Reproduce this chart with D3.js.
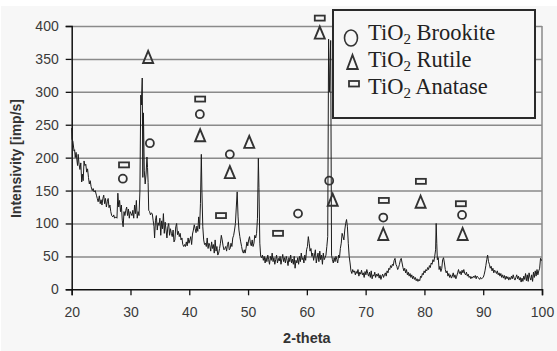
<!DOCTYPE html>
<html>
<head>
<meta charset="utf-8">
<script src="https://cdn.jsdelivr.net/npm/d3@7.9.0/dist/d3.min.js"></script>
<style>
  body { margin: 0; background: #fff; }
  svg { display: block; }
</style>
</head>
<body>
<svg id="chart" width="557" height="351"></svg>
<script>
// XRD scan, [2-theta, intensity]
const scan = [
  [20.0,245],[20.05,228],[20.2,225],[20.4,210],[20.5,212],[20.6,200],[20.75,208],[20.9,195],[21.0,188],[21.1,205],
  [21.25,190],[21.4,182],[21.55,192],[21.7,163],[21.8,175],[21.95,165],[22.1,195],[22.25,188],[22.4,190],[22.55,178],
  [22.7,183],[22.85,170],[23.0,160],[23.15,165],[23.3,156],[23.5,150],[23.65,153],[23.8,148],[24.0,150],[24.2,143],
  [24.35,138],[24.5,133],[24.7,142],[24.85,130],[25.0,136],[25.15,128],[25.3,138],[25.45,143],[25.6,130],[25.75,138],
  [25.9,125],[26.05,133],[26.2,138],[26.35,124],[26.5,128],[26.65,118],[26.8,112],[27.0,110],[27.15,113],[27.3,108],
  [27.5,110],[27.7,108],[27.85,146],[28.0,125],[28.15,135],[28.3,118],[28.45,128],[28.6,105],[28.75,95],[28.9,118],
  [29.05,112],[29.2,120],[29.35,125],[29.5,112],[29.65,122],[29.8,108],[29.95,118],[30.1,115],[30.25,112],[30.4,120],
  [30.55,108],[30.7,128],[30.85,115],[31.0,135],[31.15,108],[31.3,118],[31.45,112],[31.6,148],[31.75,295],[31.85,280],
  [32.0,321],[32.1,170],[32.2,268],[32.35,180],[32.5,160],[32.65,175],[32.8,201],[32.9,185],[33.0,162],[33.1,120],
  [33.25,118],[33.4,113],[33.55,116],[33.7,115],[33.85,105],[34.0,95],[34.1,78],[34.25,105],[34.4,112],[34.55,90],
  [34.7,101],[34.85,97],[35.0,108],[35.15,82],[35.3,104],[35.45,92],[35.6,115],[35.75,85],[35.9,102],[36.05,90],
  [36.2,78],[36.35,95],[36.5,100],[36.65,82],[36.8,92],[36.95,85],[37.1,80],[37.25,90],[37.4,72],[37.55,75],
  [37.7,95],[37.85,100],[38.0,83],[38.15,88],[38.3,80],[38.45,85],[38.6,75],[38.75,78],[38.9,68],[39.05,65],
  [39.2,68],[39.35,65],[39.5,72],[39.65,66],[39.8,78],[39.95,70],[40.1,75],[40.25,80],[40.4,68],[40.55,84],
  [40.7,90],[40.85,98],[41.0,92],[41.15,86],[41.3,96],[41.45,88],[41.6,110],[41.75,92],[41.9,130],[42.05,205],
  [42.15,150],[42.3,95],[42.45,75],[42.6,68],[42.75,70],[42.9,65],[43.05,78],[43.2,62],[43.35,70],[43.5,66],
  [43.65,58],[43.8,72],[43.95,62],[44.1,68],[44.25,55],[44.4,75],[44.55,58],[44.7,65],[44.85,52],[45.0,55],
  [45.15,62],[45.3,70],[45.45,82],[45.6,75],[45.75,66],[45.9,60],[46.05,62],[46.2,65],[46.35,58],[46.5,68],
  [46.65,72],[46.8,60],[46.95,62],[47.1,70],[47.25,65],[47.4,78],[47.55,82],[47.7,90],[47.85,100],[48.0,125],
  [48.15,148],[48.3,110],[48.45,90],[48.6,80],[48.75,72],[48.9,65],[49.05,58],[49.2,55],[49.35,60],[49.5,55],
  [49.65,62],[49.8,72],[49.95,66],[50.1,75],[50.25,80],[50.4,70],[50.55,66],[50.7,75],[50.85,65],[51.0,70],
  [51.15,82],[51.3,78],[51.45,85],[51.6,108],[51.75,199],[51.85,155],[52.0,70],[52.15,50],[52.3,48],[52.45,52],
  [52.6,44],[52.75,50],[52.9,40],[53.05,48],[53.2,42],[53.35,52],[53.5,45],[53.65,38],[53.8,50],[53.95,44],
  [54.1,55],[54.25,42],[54.4,48],[54.55,38],[54.7,45],[54.85,52],[55.0,40],[55.15,47],[55.3,43],[55.45,50],
  [55.6,38],[55.75,46],[55.9,53],[56.05,42],[56.2,48],[56.35,40],[56.5,50],[56.65,44],[56.8,36],[56.95,48],
  [57.1,42],[57.25,52],[57.4,40],[57.55,46],[57.7,38],[57.85,50],[58.0,32],[58.15,44],[58.3,40],[58.45,48],
  [58.6,38],[58.75,50],[58.9,42],[59.05,55],[59.2,45],[59.35,48],[59.5,40],[59.65,52],[59.8,44],[59.95,60],
  [60.1,65],[60.25,80],[60.4,70],[60.55,58],[60.7,62],[60.85,50],[61.0,55],[61.15,44],[61.3,52],[61.45,60],
  [61.6,40],[61.75,48],[61.9,55],[62.05,42],[62.2,58],[62.35,45],[62.5,52],[62.65,38],[62.8,55],[62.95,45],
  [63.1,48],[63.25,52],[63.4,65],[63.55,80],[63.7,380],[63.85,300],[64.05,378],[64.2,52],[64.35,45],[64.5,40],
  [64.65,48],[64.8,42],[64.95,50],[65.1,45],[65.25,40],[65.4,52],[65.55,48],[65.7,62],[65.85,70],[66.0,85],
  [66.15,80],[66.3,75],[66.45,90],[66.6,100],[66.75,106],[66.9,95],[67.05,70],[67.2,50],[67.35,40],[67.5,28],
  [67.65,24],[67.8,30],[67.95,26],[68.1,28],[68.25,22],[68.4,27],[68.55,24],[68.7,30],[68.85,20],[69.0,26],
  [69.15,23],[69.3,29],[69.45,22],[69.6,25],[69.75,18],[69.9,27],[70.05,22],[70.2,30],[70.35,24],[70.5,20],
  [70.65,26],[70.8,18],[70.95,28],[71.1,16],[71.25,22],[71.4,20],[71.55,26],[71.7,18],[71.85,23],[72.0,20],
  [72.15,24],[72.3,17],[72.45,22],[72.6,15],[72.75,20],[72.9,23],[73.05,18],[73.2,22],[73.35,25],[73.5,20],
  [73.65,28],[73.8,25],[73.95,32],[74.1,30],[74.25,36],[74.4,33],[74.55,38],[74.7,36],[74.85,44],[75.0,47],
  [75.15,38],[75.3,35],[75.45,30],[75.6,33],[75.75,38],[75.9,44],[76.05,47],[76.2,40],[76.35,33],[76.5,28],
  [76.65,32],[76.8,25],[76.95,30],[77.1,22],[77.25,26],[77.4,20],[77.55,24],[77.7,18],[77.85,22],[78.0,16],
  [78.15,20],[78.3,15],[78.45,18],[78.6,13],[78.75,16],[78.9,12],[79.05,15],[79.2,13],[79.35,20],[79.5,18],
  [79.65,24],[79.8,22],[79.95,28],[80.1,25],[80.25,30],[80.4,28],[80.55,33],[80.7,30],[80.85,36],[81.0,33],
  [81.15,40],[81.3,38],[81.45,45],[81.6,42],[81.75,50],[81.9,60],[82.0,100],[82.1,70],[82.2,45],[82.35,48],
  [82.5,30],[82.65,35],[82.8,27],[82.95,32],[83.1,45],[83.25,48],[83.4,40],[83.55,30],[83.7,25],[83.85,28],
  [84.0,20],[84.15,24],[84.3,18],[84.45,22],[84.6,17],[84.75,20],[84.9,25],[85.05,18],[85.2,22],[85.35,16],
  [85.5,20],[85.65,25],[85.8,30],[85.95,24],[86.1,27],[86.25,22],[86.4,29],[86.55,25],[86.7,30],[86.85,24],
  [87.0,22],[87.15,26],[87.3,20],[87.45,23],[87.6,18],[87.75,20],[87.9,16],[88.05,19],[88.2,17],[88.35,20],
  [88.5,18],[88.65,21],[88.8,16],[88.95,20],[89.1,18],[89.25,17],[89.4,15],[89.55,18],[89.7,16],[89.85,17],
  [90.0,18],[90.15,22],[90.3,28],[90.45,36],[90.6,45],[90.75,52],[90.9,42],[91.05,38],[91.2,32],[91.35,35],
  [91.5,28],[91.65,32],[91.8,25],[91.95,29],[92.1,27],[92.25,24],[92.4,28],[92.55,22],[92.7,25],[92.85,20],
  [93.0,24],[93.15,18],[93.3,22],[93.45,17],[93.6,21],[93.75,15],[93.9,20],[94.05,16],[94.2,19],[94.35,14],
  [94.5,18],[94.65,15],[94.8,20],[94.95,16],[95.1,22],[95.25,17],[95.4,14],[95.55,18],[95.7,22],[95.85,16],
  [96.0,20],[96.15,14],[96.3,18],[96.45,11],[96.6,17],[96.75,12],[96.9,20],[97.05,15],[97.2,24],[97.35,13],
  [97.5,22],[97.65,12],[97.8,25],[97.95,18],[98.1,14],[98.25,22],[98.4,12],[98.55,26],[98.7,18],[98.85,28],
  [99.0,20],[99.15,30],[99.3,22],[99.45,28],[99.6,32],[99.75,47],[99.9,44],[100.0,44]
];

// phase markers, [2-theta, height]
const brookite = [[28.7,168],[33.3,222],[41.8,266],[46.9,205],[58.5,115],[63.8,165],[73.0,109],[86.4,113]];
const rutile = [[33.0,353],[41.85,234],[46.9,178],[50.2,224],[62.2,390],[64.4,136],[73.0,84],[79.35,133],[86.5,84]];
const anatase = [[28.9,189],[41.85,289],[45.4,112],[55.1,85],[62.2,412],[73.1,135],[79.4,164],[86.2,130]];

const xTicks = [20, 30, 40, 50, 60, 70, 80, 90, 100];
const yTicks = [0, 50, 100, 150, 200, 250, 300, 350, 400];
const phases = ['Brookite', 'Rutile', 'Anatase'];

const svg = d3.select('#chart');
const plotL = 71.7, plotR = 542, plotT = 26, plotB = 289.3;

const x = d3.scaleLinear().domain([20, 100]).range([plotL, plotR]);
const y = d3.scaleLinear().domain([0, 400]).range([plotB, plotT]);

svg.append('rect')
  .attr('x', 1).attr('y', 6).attr('width', 556).attr('height', 345)
  .attr('fill', '#f7f7f7');

// gridlines
svg.append('g')
  .attr('transform', `translate(${plotL},0)`)
  .call(d3.axisLeft(y).tickValues(yTicks.slice(1)).tickSize(-(plotR - plotL)).tickFormat(''))
  .call(g => g.select('.domain').remove())
  .call(g => g.selectAll('line').attr('stroke', '#8a8a8a').attr('stroke-width', 1.5));

svg.append('line')
  .attr('x1', plotR).attr('x2', plotR).attr('y1', plotT).attr('y2', plotB)
  .attr('stroke', '#8a8a8a').attr('stroke-width', 1.5);

// axes
const yAxis = svg.append('g')
  .attr('transform', `translate(${plotL},0)`)
  .call(d3.axisLeft(y).tickValues(yTicks).tickSize(6).tickPadding(7));
const xAxis = svg.append('g')
  .attr('transform', `translate(0,${plotB})`)
  .call(d3.axisBottom(x).tickValues(xTicks).tickSize(6).tickPadding(12));

[yAxis, xAxis].forEach(g => {
  g.select('.domain').attr('stroke', '#111').attr('stroke-width', 1.5);
  g.selectAll('line').attr('stroke', '#111').attr('stroke-width', 1.3);
  g.selectAll('text')
    .attr('font-family', 'Liberation Sans, Arial, sans-serif')
    .attr('font-size', 14)
    .attr('fill', '#3a3a3a');
});

svg.append('text')
  .attr('x', (plotL + plotR) / 2).attr('y', 343)
  .attr('text-anchor', 'middle')
  .attr('font-family', 'Liberation Sans, Arial, sans-serif')
  .attr('font-size', 14.5).attr('font-weight', 'bold').attr('fill', '#333')
  .text('2-theta');

svg.append('text')
  .attr('transform', `translate(21,158.5) rotate(-90)`)
  .attr('text-anchor', 'middle')
  .attr('font-family', 'Liberation Sans, Arial, sans-serif')
  .attr('font-size', 14).attr('font-weight', 'bold').attr('fill', '#333')
  .text('Intensivity [imp/s]');

// scan line
const line = d3.line().x(d => x(d[0])).y(d => y(d[1]));
svg.append('path')
  .datum(scan)
  .attr('d', line)
  .attr('fill', 'none')
  .attr('stroke', '#1c1c1c')
  .attr('stroke-width', 1)
  .attr('stroke-linejoin', 'miter');

const ink = '#333';
function tri(cx, cy, w, h) {
  return `M${cx},${cy - h / 2}L${cx + w / 2},${cy + h / 2}L${cx - w / 2},${cy + h / 2}Z`;
}

const marks = svg.append('g');
marks.selectAll('circle.b').data(brookite).join('circle')
  .attr('cx', d => x(d[0])).attr('cy', d => y(d[1])).attr('r', 4)
  .attr('fill', 'none').attr('stroke', ink).attr('stroke-width', 1.8);
marks.selectAll('path.r').data(rutile).join('path')
  .attr('d', d => tri(x(d[0]), y(d[1]), 10, 12))
  .attr('fill', 'none').attr('stroke', ink).attr('stroke-width', 1.9);
marks.selectAll('rect.a').data(anatase).join('rect')
  .attr('x', d => x(d[0]) - 5).attr('y', d => y(d[1]) - 2.5)
  .attr('width', 10).attr('height', 5)
  .attr('fill', 'none').attr('stroke', ink).attr('stroke-width', 1.8);

// legend
const legend = svg.append('g');
legend.append('rect')
  .attr('x', 333).attr('y', 10).attr('width', 202).attr('height', 108)
  .attr('fill', '#f7f7f7').attr('stroke', '#2a2a2a').attr('stroke-width', 2);

legend.append('ellipse')
  .attr('cx', 351).attr('cy', 38).attr('rx', 6.5).attr('ry', 8)
  .attr('fill', 'none').attr('stroke', ink).attr('stroke-width', 1.6);
legend.append('path')
  .attr('d', tri(352.5, 62, 10.5, 14))
  .attr('fill', 'none').attr('stroke', ink).attr('stroke-width', 1.9);
legend.append('rect')
  .attr('x', 349).attr('y', 81).attr('width', 10).attr('height', 5.5)
  .attr('fill', 'none').attr('stroke', ink).attr('stroke-width', 1.8);

phases.forEach((name, i) => {
  const t = legend.append('text')
    .attr('x', 368).attr('y', 39.5 + i * 27)
    .attr('font-family', 'Liberation Serif, Times New Roman, serif')
    .attr('font-size', 22.5).attr('fill', '#222');
  t.append('tspan').text('TiO');
  t.append('tspan').attr('font-size', 15).attr('dy', 4).text('2');
  t.append('tspan').attr('dy', -4).text(' ' + name);
});
</script>
</body>
</html>
